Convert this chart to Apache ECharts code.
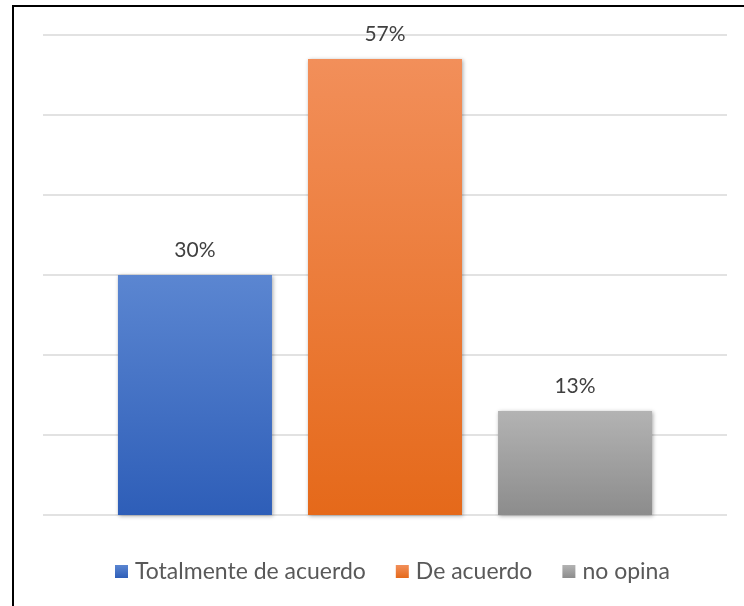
<!DOCTYPE html>
<html><head><meta charset="utf-8">
<script src="https://cdn.jsdelivr.net/npm/echarts@6/dist/echarts.min.js"></script>
<style>html,body{margin:0;padding:0;background:#fff}#c{width:744px;height:606px}</style>
</head><body><div id="c"></div>
<script>
const categories = [''];
const seriesNames = ['Totalmente de acuerdo', 'De acuerdo', 'no opina'];
const values = [30, 57, 13];
const yTicks = [0, 10, 20, 30, 40, 50, 60];

const colors = [
  ['#5b86d1', '#2e5eb8'],
  ['#f28f5a', '#e5691a'],
  ['#b3b3b3', '#8c8c8c']
];
const chart = echarts.init(document.getElementById('c'));
const font = 'Lato, "Open Sans", sans-serif';
chart.setOption({
  animation: false,
  graphic: [{type:'rect', shape:{x:13, y:6, width:800, height:700}, style:{fill:'none', stroke:'#000', lineWidth:2}, z:100}],
  grid: {left: 43, right: 17, top: 35, bottom: 91},
  legend: {
    data: seriesNames, bottom: 18, left: 110, itemWidth: 13, itemHeight: 13, itemGap: 30,
    icon: 'rect',
    textStyle: {fontFamily: font, fontSize: 23, color: '#595959', padding: [0, 0, 0, 2]}
  },
  xAxis: {type: 'category', data: categories, axisLine:{show:false}, axisTick:{show:false}, axisLabel:{show:false}},
  yAxis: {type: 'value', min: yTicks[0], max: yTicks[yTicks.length-1], interval: 10, axisLabel:{show:false},
    axisLine:{show:false}, axisTick:{show:false}, splitLine:{lineStyle:{color:'#d9d9d9', width:1.5}}},
  series: seriesNames.map((n, i) => ({
    name: n, type: 'bar', data: [values[i]], barWidth: 154, barGap: '23.4%',
    itemStyle: {
      color: {type:'linear', x:0, y:0, x2:0, y2:1, colorStops:[{offset:0, color:colors[i][0]},{offset:1, color:colors[i][1]}]},
      shadowBlur: 4, shadowColor: 'rgba(0,0,0,0.35)', shadowOffsetX: 1, shadowOffsetY: 1
    },
    label: {show: true, position: 'top', distance: 14, formatter: '{c}%', fontFamily: font, fontSize: 21, color: '#404040'}
  }))
});
</script></body></html>
